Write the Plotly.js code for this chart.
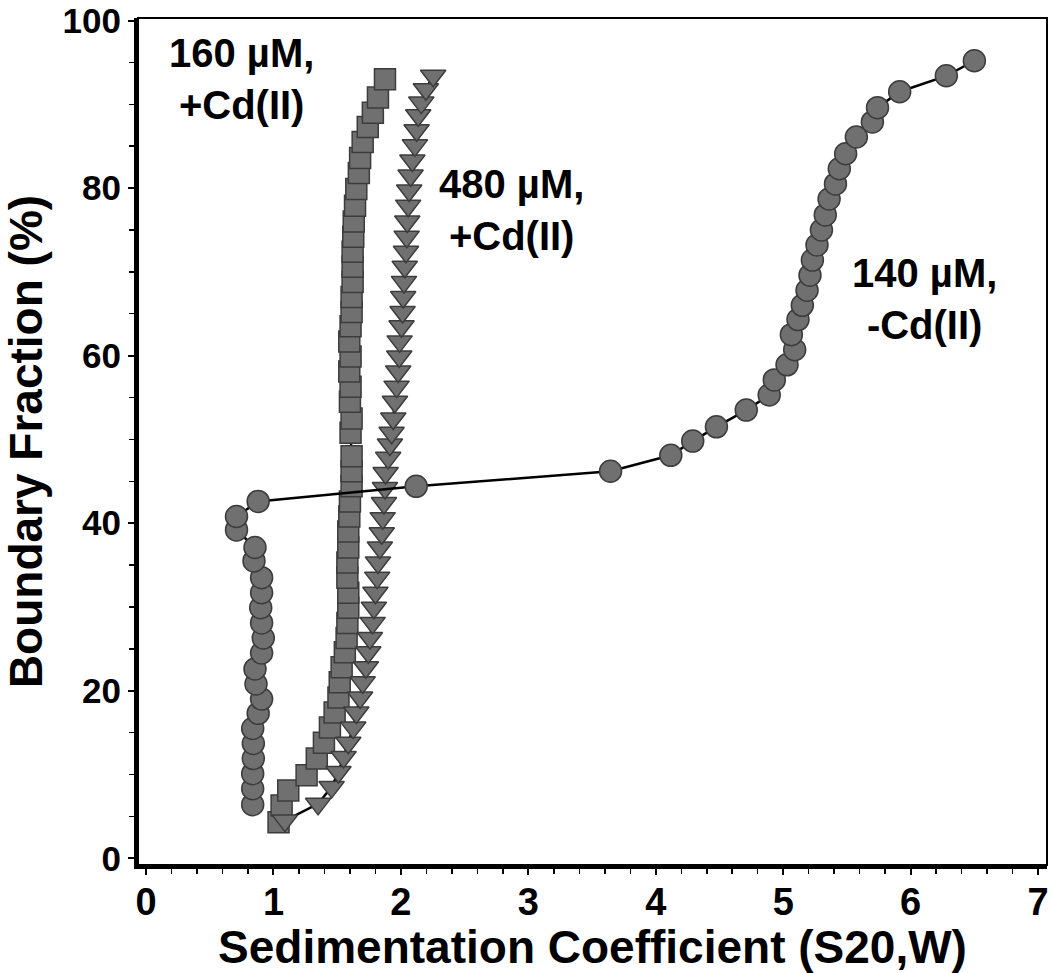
<!DOCTYPE html>
<html>
<head>
<meta charset="utf-8">
<script src="https://cdn.plot.ly/plotly-3.0.1.min.js"></script>
<style>
  html, body { margin: 0; padding: 0; background: #fff; }
  #plot { width: 1050px; height: 973px; }
</style>
</head>
<body>
<div id="plot"></div>
<script>
// 160 µM, +Cd(II) -- squares
const sq_x = [1.04, 1.064, 1.116, 1.26, 1.34, 1.396, 1.443, 1.48, 1.51, 1.52, 1.535, 1.56, 1.574, 1.58, 1.587,
  1.587, 1.58, 1.58, 1.587, 1.587, 1.595, 1.6, 1.613, 1.613, 1.613, 1.605, 1.613, 1.6, 1.605, 1.595,
  1.605, 1.595, 1.605, 1.613, 1.613, 1.621, 1.621, 1.621, 1.626, 1.63, 1.64, 1.65, 1.67, 1.68, 1.70,
  1.74, 1.78, 1.82, 1.875];
const sq_y = [4.3, 6.3, 8.1, 9.9, 11.9, 13.8, 15.6, 17.4, 19.2, 21.0, 22.8, 24.6, 26.3, 28.1, 29.9,
  31.7, 33.5, 35.3, 37.1, 39.0, 40.8, 42.6, 44.4, 46.2, 48.0, 50.8, 52.5, 54.5, 56.3, 58.1,
  59.9, 61.7, 63.5, 65.2, 67.0, 68.8, 70.6, 72.4, 74.2, 76.0, 77.9, 79.9, 81.8, 83.6, 85.5,
  87.3, 89.0, 90.8, 93.0];

// 480 µM, +Cd(II) -- down triangles
const tri_x = [1.09, 1.35, 1.456, 1.51, 1.55, 1.587, 1.626, 1.65, 1.68, 1.70, 1.725, 1.744, 1.757, 1.778, 1.788,
  1.80, 1.814, 1.82, 1.835, 1.85, 1.857, 1.867, 1.875, 1.88, 1.90, 1.914, 1.927, 1.94, 1.953, 1.966,
  1.979, 1.987, 1.99, 2.005, 2.013, 2.018, 2.024, 2.03, 2.04, 2.045, 2.05, 2.057, 2.065, 2.076, 2.09,
  2.11, 2.123, 2.136, 2.16, 2.196, 2.253];
const tri_y = [4.5, 6.5, 8.5, 10.3, 12.1, 13.8, 15.6, 17.4, 19.2, 21.0, 22.8, 24.6, 26.3, 28.1, 29.9,
  31.7, 33.5, 35.3, 37.1, 38.8, 40.6, 42.4, 44.2, 46.0, 47.8, 49.4, 50.8, 52.5, 54.5, 56.3,
  58.1, 59.9, 61.7, 63.5, 65.2, 67.0, 68.8, 70.6, 72.4, 74.2, 76.0, 77.9, 79.7, 81.5, 83.3,
  85.1, 86.9, 88.7, 90.2, 91.8, 93.4];

// 140 µM, -Cd(II) -- circles
const cir_x = [0.837, 0.837, 0.837, 0.842, 0.842, 0.837, 0.88, 0.907, 0.863, 0.855, 0.907, 0.92, 0.907, 0.9, 0.907,
  0.907, 0.847, 0.855, 0.71, 0.71, 0.88, 2.12, 3.645, 4.118, 4.29, 4.476, 4.71, 4.89, 4.93, 5.03,
  5.09, 5.064, 5.116, 5.15, 5.187, 5.21, 5.229, 5.265, 5.30, 5.33, 5.36, 5.41, 5.44, 5.49, 5.574,
  5.70, 5.74, 5.914, 6.28, 6.50];
const cir_y = [6.4, 8.3, 10.1, 11.9, 13.7, 15.5, 17.3, 19.0, 20.8, 22.6, 24.5, 26.3, 28.1, 29.9, 31.7,
  33.5, 35.5, 37.1, 39.2, 40.8, 42.6, 44.4, 46.2, 48.1, 49.8, 51.5, 53.5, 55.3, 57.1, 58.9,
  60.7, 62.5, 64.3, 66.0, 67.8, 69.6, 71.4, 73.2, 75.0, 76.8, 78.7, 80.5, 82.3, 84.1, 86.1,
  87.9, 89.6, 91.5, 93.4, 95.2];

const labels = ['160 µM,<br>+Cd(II)', '480 µM,<br>+Cd(II)', '140 µM,<br>-Cd(II)'];
const label_x = [0.75, 2.87, 6.11];
const label_y = [93, 77.4, 66.8];

const FONT = 'Liberation Sans, Arial, sans-serif';
const fill = '#707070';
const edge = '#3c3c3c';

function series(x, y, symbol, size) {
  return {
    x: x, y: y, type: 'scatter', mode: 'lines+markers',
    line: { color: '#000', width: 2.5 },
    marker: { symbol: symbol, size: size, color: fill, line: { color: edge, width: 1.5 } },
    showlegend: false, hoverinfo: 'skip'
  };
}

const traces = [
  series(sq_x, sq_y, 'square', 21),
  series(tri_x, tri_y, 'triangle-down', 22),
  series(cir_x, cir_y, 'circle', 22)
];

const annotations = labels.map((t, i) => ({
  text: t, x: label_x[i], y: label_y[i], xref: 'x', yref: 'y',
  showarrow: false, align: 'center',
  font: { family: FONT, size: 40, color: '#000', weight: 'bold' }
}));

const layout = {
  width: 1050, height: 973,
  margin: { l: 138, r: 3, t: 18, b: 108 },
  paper_bgcolor: '#fff', plot_bgcolor: '#fff',
  font: { family: FONT, color: '#000', weight: 'bold' },
  xaxis: {
    range: [-0.063, 7.07], dtick: 1, tick0: 0,
    showgrid: false, zeroline: false,
    showline: true, linecolor: '#000', linewidth: 4,
    ticks: 'outside', ticklen: 6, tickwidth: 2, tickcolor: '#000',
    ticklabelstandoff: -6,
    tickfont: { family: FONT, size: 38, weight: 'bold' },
    minor: { dtick: 0.2, ticks: 'outside', ticklen: 5, tickwidth: 1.5, tickcolor: '#000', showgrid: false },
    title: { text: 'Sedimentation Coefficient (S20,W)', font: { family: FONT, size: 46, weight: 'bold' }, standoff: 0 }
  },
  yaxis: {
    range: [-0.8, 100.3], dtick: 20, tick0: 0,
    showgrid: false, zeroline: false,
    showline: true, linecolor: '#000', linewidth: 4,
    ticks: 'outside', ticklen: 6, tickwidth: 2, tickcolor: '#000',
    ticklabeloverflow: 'allow',
    tickfont: { family: FONT, size: 35, weight: 'bold' },
    minor: { dtick: 5, ticks: 'outside', ticklen: 5, tickwidth: 1.5, tickcolor: '#000', showgrid: false },
    title: { text: 'Boundary Fraction (%)', font: { family: FONT, size: 46, weight: 'bold' }, standoff: 6 }
  },
  shapes: [{
    type: 'rect', xref: 'paper', yref: 'paper', x0: 0, x1: 1, y0: 0, y1: 1,
    line: { color: '#000', width: 2 }, layer: 'above'
  }],
  annotations: annotations
};

Plotly.newPlot('plot', traces, layout, { displayModeBar: false, staticPlot: true });
</script>
</body>
</html>
